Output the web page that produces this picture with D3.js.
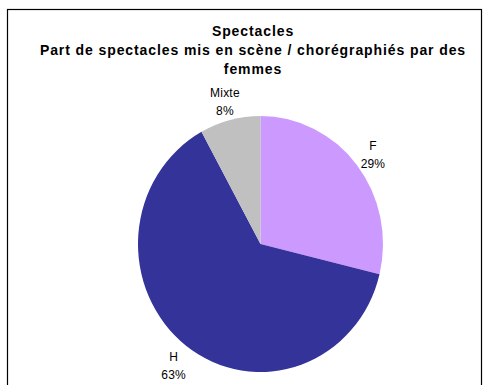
<!DOCTYPE html>
<html>
<head>
<meta charset="utf-8">
<script src="https://cdn.jsdelivr.net/npm/d3@7"></script>
<style>
  html, body { margin: 0; padding: 0; background: #fff; }
  svg { display: block; }
</style>
</head>
<body>
<svg id="chart" width="483" height="385"></svg>
<script>
const categories = ["F", "H", "Mixte"];
const values = [28.8, 63.2, 8.0];
const labels = ["29%", "63%", "8%"];
const colors = ["#CC99FF", "#333399", "#C0C0C0"];
const titleLines = ["Spectacles", "Part de spectacles mis en scène / chorégraphiés par des", "femmes"];

const svg = d3.select("#chart");
const font = "'Liberation Sans', Arial, sans-serif";

// chart border
svg.append("rect")
  .attr("x", 7.5).attr("y", 9.5)
  .attr("width", 474).attr("height", 400)
  .attr("fill", "none").attr("stroke", "#000").attr("stroke-width", 1.2);

// title
const title = svg.append("text")
  .attr("text-anchor", "middle")
  .attr("font-family", font)
  .attr("font-weight", "bold")
  .attr("font-size", 14)
  .attr("letter-spacing", 0.9)
  .attr("fill", "#000");
titleLines.forEach((t, i) => {
  title.append("tspan").attr("x", 253).attr("y", 36 + i * 19).text(t);
});

const cx = 260.5, cy = 244, r = 122.5, sy = 128 / 122.5;

const pie = d3.pie().sort(null).value(d => d.v);
const data = pie(categories.map((c, i) => ({ c, v: values[i], l: labels[i], col: colors[i] })));
const arc = d3.arc().innerRadius(0).outerRadius(r);

const g = svg.append("g").attr("transform", `translate(${cx},${cy}) scale(1,${sy})`);
g.selectAll("path").data(data).join("path")
  .attr("d", arc)
  .attr("fill", d => d.data.col);

const labelArc = d3.arc().innerRadius(143).outerRadius(143);
const lg = svg.append("g").attr("transform", `translate(${cx},${cy})`);
data.forEach(d => {
  const [x, y0] = labelArc.centroid(d);
  const y = y0 * sy;
  const t = lg.append("text")
    .attr("text-anchor", "middle")
    .attr("font-family", font)
    .attr("font-size", 12)
    .attr("letter-spacing", 0.2)
    .attr("fill", "#000");
  t.append("tspan").attr("x", x).attr("y", y - 2).text(d.data.c);
  t.append("tspan").attr("x", x).attr("y", y + 16).text(d.data.l);
});
</script>
</body>
</html>
